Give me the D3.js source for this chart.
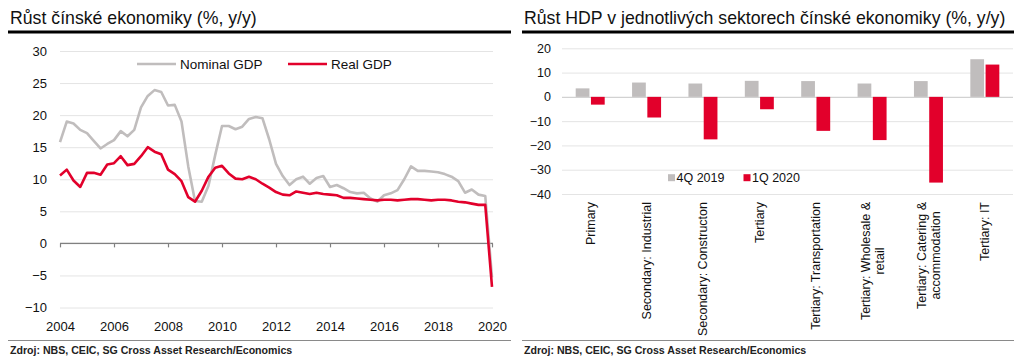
<!DOCTYPE html>
<html>
<head>
<meta charset="utf-8">
<script src="https://cdn.jsdelivr.net/npm/d3@7"></script>
<style>
  body { margin: 0; background: #fff; }
  svg { display: block; font-family: "Liberation Sans", Arial, sans-serif; }
</style>
</head>
<body>
<svg id="chart" width="1024" height="364"></svg>
<script>
// left chart: quarterly y/y growth, 2004Q1 .. 2020Q1
const startYear = 2004;
const nominalGdp = [15.8, 19.0, 18.7, 17.7, 17.2, 16.0, 14.8, 15.5, 16.1, 17.5,
  16.7, 17.7, 21.2, 23.0, 23.9, 23.6, 21.5, 21.6, 19.0, 12.0,
  6.6, 6.5, 9.0, 13.8, 18.3, 18.3, 17.8, 18.2, 19.4, 19.7,
  19.5, 16.2, 12.4, 10.5, 9.1, 10.0, 10.4, 9.3, 10.2, 10.5,
  8.8, 9.1, 8.6, 8.0, 7.8, 7.9, 7.0, 6.5, 7.5, 7.8,
  8.3, 10.0, 12.0, 11.3, 11.3, 11.2, 11.1, 10.8, 10.4, 9.7,
  7.9, 8.4, 7.6, 7.4, -5.3];
const realGdp = [10.6, 11.5, 9.8, 8.8, 11.0, 11.0, 10.7, 12.3, 12.5, 13.6,
  12.2, 12.4, 13.6, 15.0, 14.3, 13.9, 11.5, 10.8, 9.7, 7.2,
  6.5, 8.2, 10.4, 11.8, 12.1, 10.9, 10.1, 10.0, 10.4, 10.0,
  9.3, 8.7, 8.0, 7.6, 7.5, 8.1, 7.9, 7.7, 7.9, 7.7,
  7.6, 7.5, 7.1, 7.1, 7.0, 6.9, 6.8, 6.7, 6.8, 6.8,
  6.7, 6.8, 6.9, 6.9, 6.8, 6.7, 6.8, 6.8, 6.7, 6.5,
  6.4, 6.2, 6.0, 6.0, -6.8];
const yearTicks = [2004, 2006, 2008, 2010, 2012, 2014, 2016, 2018, 2020];
const leftYTicks = [-10, -5, 0, 5, 10, 15, 20, 25, 30];

// right chart: sector growth
const sectors = ["Primary", "Secondary: Industrial", "Secondary: Constructon", "Tertiary",
  "Tertiary: Transportation", "Tertiary: Wholesale &\nretail",
  "Tertiary: Catering &\naccommodation", "Tertiary: IT"];
const q4_2019 = [3.5, 5.9, 5.5, 6.6, 6.5, 5.5, 6.5, 15.5];
const q1_2020 = [-3.2, -8.5, -17.5, -5.1, -14.0, -17.8, -35.3, 13.3];
const seriesNames = ["4Q 2019", "1Q 2020"];
const rightYTicks = [-40, -30, -20, -10, 0, 10, 20];

const grey = "#c0bdbd";
const red = "#e2002b";
const gridCol = "#e4e4e4";

const svg = d3.select("#chart");

// ---------- headers / footers ----------
function frame(x0, x1, title) {
  svg.append("text").attr("x", x0 + 2).attr("y", 24)
    .attr("font-size", 17.7).attr("fill", "#111").text(title);
  svg.append("line").attr("x1", x0).attr("x2", x1).attr("y1", 32).attr("y2", 32)
    .attr("stroke", "#000").attr("stroke-width", 3);
  svg.append("line").attr("x1", x0).attr("x2", x1).attr("y1", 340.5).attr("y2", 340.5)
    .attr("stroke", "#8a8a8a").attr("stroke-width", 1.2);
  svg.append("text").attr("x", x0 + 2).attr("y", 354)
    .attr("font-size", 10.6).attr("font-weight", "bold").attr("fill", "#222")
    .text("Zdroj: NBS, CEIC, SG Cross Asset Research/Economics");
}
frame(8, 511, "Růst čínské ekonomiky (%, y/y)");
frame(522, 1014, "Růst HDP v jednotlivých sektorech čínské ekonomiky (%, y/y)");

// ---------- left line chart ----------
const xL = d3.scaleLinear().domain([2004, 2020]).range([60, 492]);
const yL = d3.scaleLinear().domain([-10, 30]).range([307.5, 51]);

const gL = svg.append("g");

gL.append("g")
  .attr("transform", "translate(60,0)")
  .call(d3.axisLeft(yL).tickValues(leftYTicks).tickSize(-433).tickPadding(13))
  .call(g => g.select(".domain").remove())
  .call(g => g.selectAll(".tick line").attr("stroke", gridCol))
  .call(g => g.selectAll(".tick text").attr("font-size", 13).attr("fill", "#111")
    .attr("font-family", "Liberation Sans, Arial, sans-serif"));

// zero line with year ticks
gL.append("g")
  .attr("transform", `translate(0,${yL(0)})`)
  .call(d3.axisBottom(xL).tickValues(yearTicks).tickSize(4).tickFormat(""))
  .call(g => g.select(".domain").attr("stroke", "#808080").attr("stroke-width", 1.4)
    .attr("d", `M${xL(2004)},0H${xL(2020) + 1}`))
  .call(g => g.selectAll(".tick line").attr("stroke", "#808080").attr("stroke-width", 1.2));

gL.append("g")
  .attr("transform", "translate(0,307.5)")
  .call(d3.axisBottom(xL).tickValues(yearTicks).tickSize(0).tickPadding(14).tickFormat(d3.format("d")))
  .call(g => g.select(".domain").remove())
  .call(g => g.selectAll(".tick text").attr("font-size", 13).attr("fill", "#111")
    .attr("font-family", "Liberation Sans, Arial, sans-serif"));

const line = d3.line()
  .x((d, i) => xL(startYear + i / 4))
  .y(d => yL(d));

gL.append("path").datum(nominalGdp)
  .attr("fill", "none").attr("stroke", grey).attr("stroke-width", 2.6)
  .attr("stroke-linejoin", "round").attr("d", line);
gL.append("path").datum(realGdp)
  .attr("fill", "none").attr("stroke", red).attr("stroke-width", 2.6)
  .attr("stroke-linejoin", "round").attr("d", line);

// legend
const legL = [
  { name: "Nominal GDP", color: grey, x: 137 },
  { name: "Real GDP", color: red, x: 288 }
];
legL.forEach(d => {
  gL.append("line").attr("x1", d.x).attr("x2", d.x + 39).attr("y1", 64).attr("y2", 64)
    .attr("stroke", d.color).attr("stroke-width", 2.6);
  gL.append("text").attr("x", d.x + 43).attr("y", 68.8)
    .attr("font-size", 13.5).attr("fill", "#111").text(d.name);
});

// ---------- right bar chart ----------
const xR = d3.scaleBand().domain(sectors).range([562, 1013]);
const xInner = d3.scaleBand().domain(seriesNames).range([13.7, 42.7]).paddingInner(0.1);
const yR = d3.scaleLinear().domain([-40, 20]).range([194, 48.3]);

const gR = svg.append("g");

gR.append("g")
  .attr("transform", "translate(562,0)")
  .call(d3.axisLeft(yR).tickValues(rightYTicks).tickSize(-451).tickPadding(11))
  .call(g => g.select(".domain").remove())
  .call(g => g.selectAll(".tick line").attr("stroke", d => d === 0 ? "#d2d2d2" : gridCol).attr("stroke-width", d => d === 0 ? 1.3 : 1))
  .call(g => g.selectAll(".tick text").attr("font-size", 12.5).attr("fill", "#111")
    .attr("font-family", "Liberation Sans, Arial, sans-serif"));

const barData = sectors.flatMap((s, i) => [
  { sector: s, series: seriesNames[0], value: q4_2019[i], color: grey },
  { sector: s, series: seriesNames[1], value: q1_2020[i], color: red }
]);

gR.selectAll("rect.bar").data(barData).enter().append("rect")
  .attr("class", "bar")
  .attr("x", d => xR(d.sector) + xInner(d.series))
  .attr("width", xInner.bandwidth())
  .attr("y", d => yR(Math.max(0, d.value)))
  .attr("height", d => Math.abs(yR(d.value) - yR(0)))
  .attr("fill", d => d.color);

// rotated category labels: longest line ends at the top, lines centred on each other
const labelTop = 202;
sectors.forEach(s => {
  const lines = s.split("\n");
  const cx = xR(s) + xR.bandwidth() / 2;
  const lh = 14;
  const t = gR.append("text")
    .attr("text-anchor", "middle")
    .attr("font-size", 12.5).attr("fill", "#111");
  lines.forEach((l, k) => {
    t.append("tspan").attr("x", 0).attr("dy", k === 0 ? 0 : lh).text(l);
  });
  const maxLen = d3.max(t.selectAll("tspan").nodes(), n => n.getComputedTextLength());
  t.attr("transform",
    `translate(${cx - (lines.length - 1) * lh / 2 + 4.5},${labelTop + maxLen / 2}) rotate(-90)`);
});

// legend
const legR = [
  { name: seriesNames[0], color: grey, x: 668 },
  { name: seriesNames[1], color: red, x: 743.5 }
];
legR.forEach(d => {
  gR.append("rect").attr("x", d.x).attr("y", 174.2).attr("width", 7).attr("height", 7)
    .attr("fill", d.color);
  gR.append("text").attr("x", d.x + 8.5).attr("y", 182)
    .attr("font-size", 12.5).attr("fill", "#111").text(d.name);
});
</script>
</body>
</html>
